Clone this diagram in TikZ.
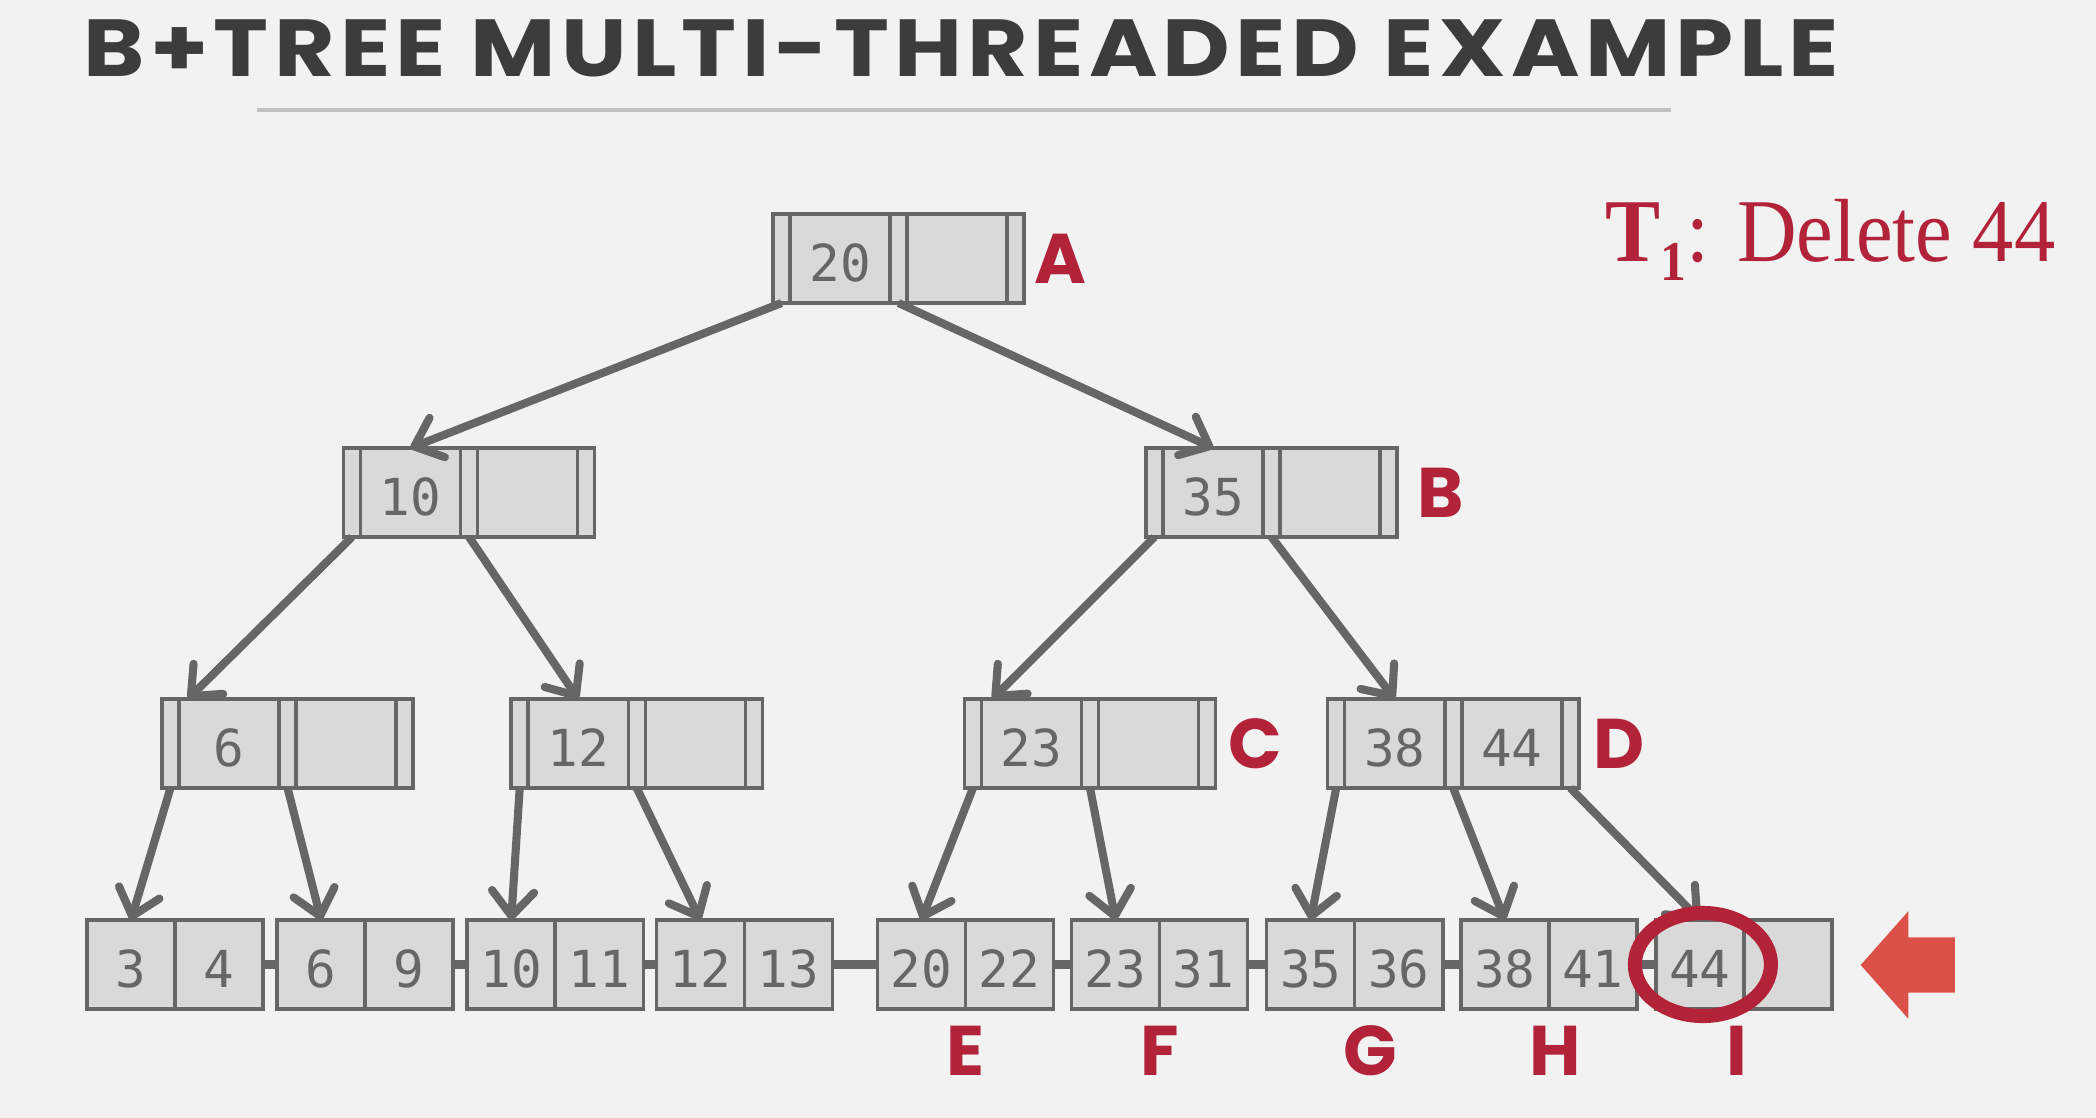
\documentclass[tikz,border=0pt]{standalone}
\usepackage{fontspec}
\setmainfont{Liberation Serif}
\newfontfamily\titlefont{Poppins}[LetterSpace=6.5, FakeStretch=1.15]
\newfontfamily\tagfont{Poppins}
\newfontfamily\keyfont{DejaVu Sans Mono}
\newfontfamily\taskfont{Liberation Serif}[FakeStretch=0.92]
\usepackage{xcolor}
\usepackage{tikz}
\usetikzlibrary{arrows.meta, positioning, shapes.arrows}

\definecolor{bggray}{HTML}{F2F2F2}
\definecolor{cellgray}{HTML}{D9D9D9}
\definecolor{edgegray}{HTML}{666666}
\definecolor{darktext}{HTML}{3C3C3C}
\definecolor{rulegray}{HTML}{C0C0C0}
\definecolor{tagred}{HTML}{B22339}
\definecolor{pointred}{HTML}{DC504A}

\begin{document}
\begin{tikzpicture}[
    x=0.01cm, y=-0.01cm,
    slot/.style={rectangle, draw=edgegray, fill=cellgray, line width=1pt, minimum height=0.89cm, inner sep=0pt, outer sep=0pt, text height=0.46cm, text=edgegray, font=\keyfont\fontsize{14.5}{16}\selectfont},
    ptr/.style={slot, minimum width=0.17cm},
    key/.style={slot, minimum width=1cm},
    leafkey/.style={slot, minimum width=0.88cm},
    tag/.style={text=tagred, inner sep=0pt, font=\tagfont\bfseries\fontsize{20}{24}\selectfont},
    arrow/.style={-{Straight Barb[length=7pt, width=12pt, round]}, draw=edgegray, line width=2.3pt},
    link/.style={draw=edgegray, line width=2.4pt},
    ring/.style={draw=tagred, line width=4pt}
]

% page
\fill[bggray] (0,0) rectangle (2096,1118);
\useasboundingbox (0,0) rectangle (2096,1118);

% heading
\node[anchor=base west, inner sep=0pt, text=darktext, font=\titlefont\bfseries\fontsize{23}{28}\selectfont] (title) at (83,76) {B+TREE MULTI-THREADED EXAMPLE};
\draw[rulegray, line width=1.4pt] (257,110) -- (1671,110);
\node[anchor=base west, inner sep=0pt, text=tagred, font=\taskfont\fontsize{25.5}{30}\selectfont] (task) at (1605,261) {\textbf{T}\raisebox{-0.22em}{\fontsize{16}{18}\selectfont\textbf{1}}: Delete 44};

% root
\node[ptr] (A0) at (781.5,258.5) {};
\node[key, right=0pt of A0] (A1) {20};
\node[ptr, right=0pt of A1] (A2) {};
\node[key, right=0pt of A2] (A3) {};
\node[ptr, right=0pt of A3] (A4) {};

% second level
\node[ptr] (ten0) at (352,492.5) {};
\node[key, right=0pt of ten0] (ten1) {10};
\node[ptr, right=0pt of ten1] (ten2) {};
\node[key, right=0pt of ten2] (ten3) {};
\node[ptr, right=0pt of ten3] (ten4) {};

\node[ptr, right=5.51cm of ten4] (B0) {};
\node[key, right=0pt of B0] (B1) {35};
\node[ptr, right=0pt of B1] (B2) {};
\node[key, right=0pt of B2] (B3) {};
\node[ptr, right=0pt of B3] (B4) {};

% third level
\node[ptr] (six0) at (170.5,743.5) {};
\node[key, right=0pt of six0] (six1) {6};
\node[ptr, right=0pt of six1] (six2) {};
\node[key, right=0pt of six2] (six3) {};
\node[ptr, right=0pt of six3] (six4) {};

\node[ptr, right=0.98cm of six4] (twelve0) {};
\node[key, right=0pt of twelve0] (twelve1) {12};
\node[ptr, right=0pt of twelve1] (twelve2) {};
\node[key, right=0pt of twelve2] (twelve3) {};
\node[ptr, right=0pt of twelve3] (twelve4) {};

\node[ptr, right=2.02cm of twelve4] (C0) {};
\node[key, right=0pt of C0] (C1) {23};
\node[ptr, right=0pt of C1] (C2) {};
\node[key, right=0pt of C2] (C3) {};
\node[ptr, right=0pt of C3] (C4) {};

\node[ptr, right=1.12cm of C4] (D0) {};
\node[key, right=0pt of D0] (D1) {38};
\node[ptr, right=0pt of D1] (D2) {};
\node[key, right=0pt of D2] (D3) {44};
\node[ptr, right=0pt of D3] (D4) {};

% leaves
\node[leafkey] (lf1a) at (131,964.5) {3};
\node[leafkey, right=0pt of lf1a] (lf1b) {4};
\node[leafkey, right=0.14cm of lf1b] (lf2a) {6};
\node[leafkey, right=0pt of lf2a] (lf2b) {9};
\node[leafkey, right=0.14cm of lf2b] (lf3a) {10};
\node[leafkey, right=0pt of lf3a] (lf3b) {11};
\node[leafkey, right=0.13cm of lf3b] (lf4a) {12};
\node[leafkey, right=0pt of lf4a] (lf4b) {13};
\node[leafkey, right=0.45cm of lf4b] (lf5a) {20};
\node[leafkey, right=0pt of lf5a] (lf5b) {22};
\node[leafkey, right=0.18cm of lf5b] (lf6a) {23};
\node[leafkey, right=0pt of lf6a] (lf6b) {31};
\node[leafkey, right=0.19cm of lf6b] (lf7a) {35};
\node[leafkey, right=0pt of lf7a] (lf7b) {36};
\node[leafkey, right=0.18cm of lf7b] (lf8a) {38};
\node[leafkey, right=0pt of lf8a] (lf8b) {41};
\node[leafkey, right=0.19cm of lf8b] (lf9a) {44};
\node[leafkey, right=0pt of lf9a] (lf9b) {};

% sibling links
\draw[link] (lf1b.east) -- (lf2a.west);
\draw[link] (lf2b.east) -- (lf3a.west);
\draw[link] (lf3b.east) -- (lf4a.west);
\draw[link] (lf4b.east) -- (lf5a.west);
\draw[link] (lf5b.east) -- (lf6a.west);
\draw[link] (lf6b.east) -- (lf7a.west);
\draw[link] (lf7b.east) -- (lf8a.west);
\draw[link] (lf8b.east) -- (lf9a.west);

% child pointers
\draw[arrow] (A0.south) -- (ten1.north);
\draw[arrow] (A2.south) -- (B1.north);
\draw[arrow] (ten0.south) -- ([xshift=0.09cm]six1.north west);
\draw[arrow] (ten2.south) -- (twelve1.north);
\draw[arrow] (B0.south) -- ([xshift=0.11cm]C1.north west);
\draw[arrow] (B2.south) -- (D1.north);
\draw[arrow] (six0.south) -- (lf1a.north);
\draw[arrow] (six2.south) -- (lf2a.north);
\draw[arrow] (twelve0.south) -- (lf3a.north);
\draw[arrow] (twelve2.south) -- (lf4a.north);
\draw[arrow] (C0.south) -- (lf5a.north);
\draw[arrow] (C2.south) -- (lf6a.north);
\draw[arrow] (D0.south) -- (lf7a.north);
\draw[arrow] (D2.south) -- (lf8a.north);
\draw[arrow] (D4.south) -- (lf9a.north);

% node tags
\node[tag, right=0.1cm of A4] (tagA) {A};
\node[tag, right=0.2cm of B4] (tagB) {B};
\node[tag, right=0.12cm of C4] (tagC) {C};
\node[tag, right=0.14cm of D4] (tagD) {D};
\node[tag, below=0.16cm of lf5a.south east] (tagE) {E};
\node[tag, below=0.16cm of lf6a.south east] (tagF) {F};
\node[tag, below=0.16cm of lf7a.south east, xshift=0.16cm] (tagG) {G};
\node[tag, below=0.16cm of lf8a.south east, xshift=0.06cm] (tagH) {H};
\node[tag, below=0.16cm of lf9a.south east, xshift=-0.07cm] (tagI) {I};

% target key and cursor
\draw[ring] ([xshift=0.03cm]lf9a.center) ellipse [x radius=0.68cm, y radius=0.515cm];
\node[single arrow, shape border rotate=180, fill=pointred, inner sep=0.27cm, minimum height=0.94cm, minimum width=1.06cm, single arrow head extend=0.26cm, single arrow tip angle=97] (cursor) at (1920,965) {};

\end{tikzpicture}
\end{document}
